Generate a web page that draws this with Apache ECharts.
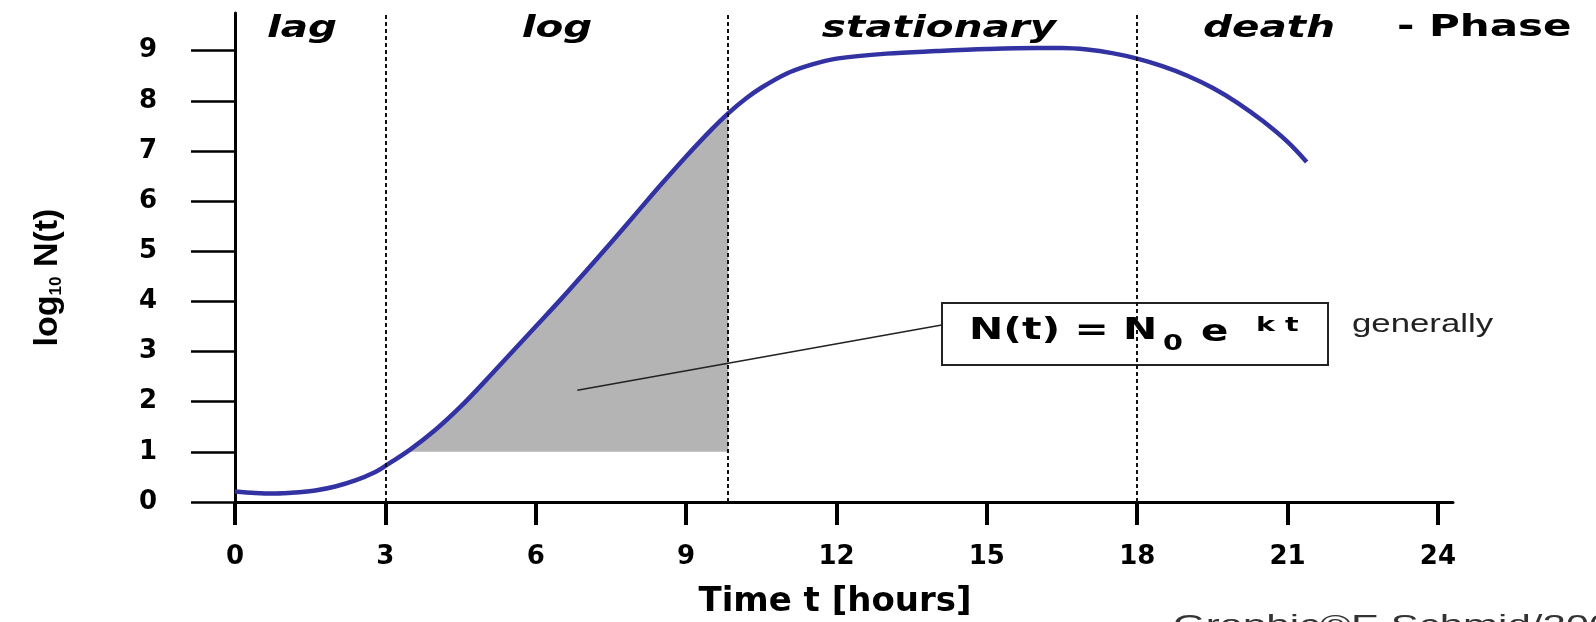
<!DOCTYPE html>
<html>
<head>
<meta charset="utf-8">
<title>Bacterial growth phases</title>
<script src="https://cdn.jsdelivr.net/npm/echarts@6/dist/echarts.min.js"></script>
<style>
  html, body { margin: 0; padding: 0; background: #fff; }
  #Echarts { width: 1596px; height: 622px; }
</style>
</head>
<body>
<div id="Echarts"></div>
<script>
// growth curve (time in hours, log10 of cell count)
var hours = [0, 0.4, 0.8, 1.2, 1.6, 2.0, 2.4, 2.8, 3.0, 3.5, 4.0, 4.5, 5.0, 5.5, 6.0, 6.5, 7.0, 7.5,
  8.0, 8.5, 9.0, 9.5, 9.84, 10.2, 10.5, 11.0, 11.5, 12.0, 13.0, 14.0, 15.0, 16.0, 16.5, 17.0,
  17.5, 18.0, 18.5, 19.0, 19.5, 20.0, 20.5, 21.0, 21.38]
var logN = [0.21, 0.18, 0.17, 0.19, 0.23, 0.31, 0.43, 0.6, 0.72, 1.05, 1.44, 1.9, 2.42, 2.96, 3.5, 4.04, 4.6, 5.17,
  5.75, 6.33, 6.89, 7.42, 7.75, 8.05, 8.26, 8.54, 8.72, 8.84, 8.94, 8.99, 9.03, 9.05, 9.05, 9.02,
  8.95, 8.84, 8.69, 8.5, 8.26, 7.96, 7.6, 7.18, 6.78]

var xTicks = [0, 3, 6, 9, 12, 15, 18, 21, 24]
var yTicks = [0, 1, 2, 3, 4, 5, 6, 7, 8, 9]

// phase borders (dashed lines) and the shaded exponential part
var phaseBounds = [3, 9.84, 18]
var phaseNames = ['lag', 'log', 'stationary', 'death']
var shadeFrom = 3.5
var shadeTo = 9.84
var leaderFrom = [6.83, 2.23]
var leaderTo = [14.1, 3.53]

var curve = hours.map(function (t, i) { return [t, logN[i]] })
var shaded = curve.filter(function (p) { return p[0] >= shadeFrom && p[0] <= shadeTo })

var boldFont = 'DejaVu Sans'
var myChart = echarts.init(document.getElementById('Echarts'))

// phase label pixel centres along the top
var phaseX = [302, 557, 939, 1269]
var phaseText = phaseNames.map(function (name, i) {
  return {
    type: 'text', x: phaseX[i], y: 29, scaleX: 1.35, silent: true,
    style: {
      text: name, fill: '#000', fontSize: 30, fontFamily: boldFont, fontWeight: 'bold', fontStyle: 'italic',
      align: 'center', textAlign: 'center', verticalAlign: 'middle', textVerticalAlign: 'middle'
    }
  }
})

function txt(x, y, text, size, sx, extra) {
  var style = {
    text: text, fill: '#000', fontSize: size, fontFamily: boldFont, fontWeight: 'bold',
    align: 'left', textAlign: 'left', verticalAlign: 'middle', textVerticalAlign: 'middle'
  }
  for (var k in extra) style[k] = extra[k]
  return { type: 'text', x: x, y: y, scaleX: sx, silent: true, style: style }
}

var option = {
  animation: false,
  grid: { left: 235, right: 143, top: 13, bottom: 120, outerBoundsMode: 'none' },
  xAxis: {
    type: 'value',
    min: 0,
    max: 24.3,
    interval: 3,
    name: 'Time t [hours]',
    nameLocation: 'middle',
    nameGap: 83,
    nameTextStyle: { fontFamily: boldFont, fontWeight: 'bold', fontSize: 34, color: '#000', padding: [0, 18, 0, 0] },
    axisLine: { lineStyle: { color: '#000', width: 3 } },
    axisTick: { customValues: xTicks, length: 23, lineStyle: { color: '#000', width: 4 } },
    axisLabel: { customValues: xTicks, margin: 42, fontFamily: boldFont, fontWeight: 'bold', fontSize: 26, color: '#000' },
    splitLine: { show: false }
  },
  yAxis: {
    type: 'value',
    min: 0,
    max: 9.75,
    interval: 1,
    name: '{a|log}{s|10}{a| N(t)}',
    nameLocation: 'middle',
    nameRotate: 90,
    nameGap: 170,
    nameTextStyle: {
      padding: [0, 40, 0, 0],
      rich: {
        a: { fontFamily: 'Liberation Sans', fontWeight: 'bold', fontSize: 34, color: '#000' },
        s: { fontFamily: 'Liberation Sans', fontWeight: 'bold', fontSize: 17, color: '#000', verticalAlign: 'bottom' }
      }
    },
    axisLine: { show: true, lineStyle: { color: '#000', width: 3 } },
    axisTick: { customValues: yTicks, length: 44, lineStyle: { color: '#000', width: 2.5 } },
    axisLabel: { customValues: yTicks, margin: 78, fontFamily: boldFont, fontWeight: 'bold', fontSize: 26, color: '#000' },
    splitLine: { show: false }
  },
  series: [
    {
      name: 'exponential',
      type: 'line',
      data: shaded,
      smooth: 0.35,
      symbol: 'none',
      silent: true,
      z: 1,
      lineStyle: { width: 0 },
      areaStyle: { color: '#b4b4b4', opacity: 1, origin: 1 }
    },
    {
      name: 'log10 N(t)',
      type: 'line',
      data: curve,
      smooth: 0.35,
      symbol: 'none',
      z: 3,
      lineStyle: { color: '#3232a2', width: 4.5 },
      markLine: {
        silent: true,
        symbol: ['none', 'none'],
        label: { show: false },
        data: phaseBounds.map(function (x) {
          return { xAxis: x, lineStyle: { type: [4, 3], width: 2, color: '#111' } }
        }).concat([[
          { coord: leaderFrom, lineStyle: { type: 'solid', width: 1.5, color: '#222' } },
          { coord: leaderTo }
        ]])
      }
    }
  ],
  graphic: phaseText.concat([
    txt(1397, 28, '- Phase', 30, 1.4),
    {
      type: 'rect', silent: true,
      shape: { x: 942, y: 303, width: 386, height: 62 },
      style: { fill: 'none', stroke: '#222', lineWidth: 2 }
    },
    txt(969, 331, 'N(t) = N', 31, 1.32),
    txt(1163, 344, '0', 22, 1.3),
    txt(1201, 333, 'e', 31, 1.3),
    txt(1256, 326, 'k t', 19, 1.5),
    txt(1352, 325, 'generally', 25, 1.39, { fontFamily: 'Liberation Sans', fontWeight: 'normal', fill: '#222' }),
    txt(1173, 626, 'Graphic©E.Schmid/2002', 28, 1.5, { fontFamily: 'Liberation Sans', fontWeight: 'normal', fill: '#333' })
  ])
}

myChart.setOption(option)
</script>
</body>
</html>
